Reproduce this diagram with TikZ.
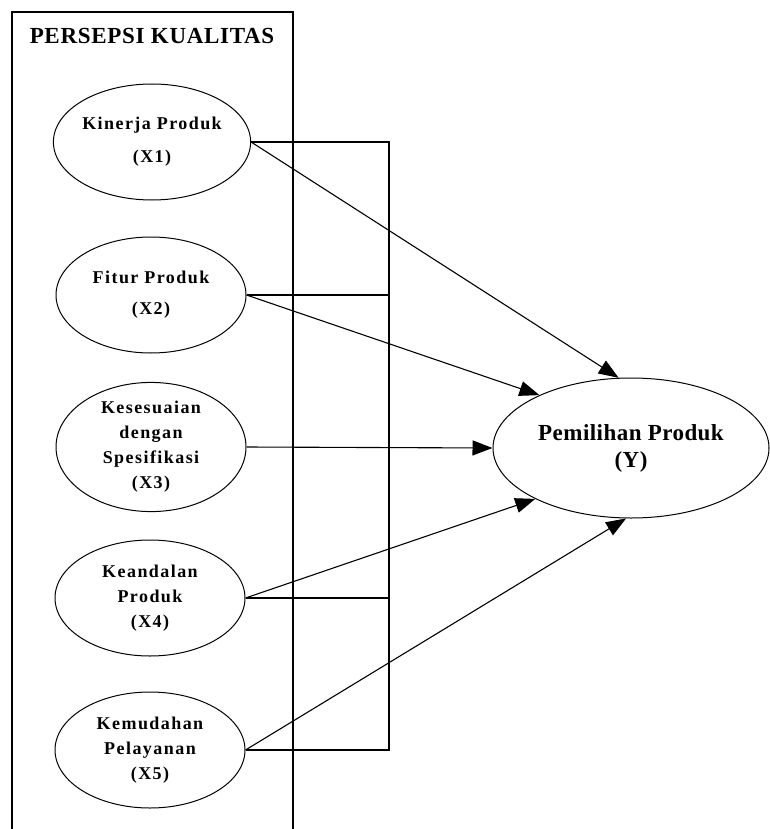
\documentclass[tikz,border=0pt]{standalone}
\usepackage{fontspec}
\setmainfont{Liberation Serif}
\usetikzlibrary{shapes,arrows.meta}

\begin{document}
\begin{tikzpicture}[x=1pt,y=-1pt,
  var/.style={draw, ellipse, line width=1pt, minimum width=190pt, minimum height=116pt,
    inner sep=0pt, align=center, font=\fontsize{18}{25}\selectfont\bfseries\addfontfeature{LetterSpace=8}},
  path/.style={line width=1.1pt, -{Triangle[length=20pt,width=15pt]}},
  bracket/.style={line width=2.6pt}]
\useasboundingbox (0,0) rectangle (769,829);
\draw[line width=1.1pt] (12,829) -- (12,12) -- (293,12) -- (293,829);
\node[font=\fontsize{23}{26}\selectfont\bfseries\addfontfeature{LetterSpace=3}] (title) at (152,36) {PERSEPSI KUALITAS};
\node[var] (x1) at (152,142) {Kinerja Produk\\[8pt](X1)};
\node[var] (x2) at (151,295) {Fitur Produk\\[6pt](X2)};
\node[var] (x3) at (151,447) {Kesesuaian\\dengan\\Spesifikasi\\(X3)};
\node[var] (x4) at (150,598) {Keandalan\\Produk\\(X4)};
\node[var] (x5) at (150,750) {Kemudahan\\Pelayanan\\(X5)};
\node[draw, ellipse, line width=1pt, minimum width=276pt, minimum height=140pt, inner sep=0pt,
  align=center, font=\fontsize{23}{27}\selectfont\bfseries\addfontfeature{LetterSpace=2}] (y) at (631,448) {Pemilihan Produk\\(Y)};
\coordinate (bt) at (389,142);
\coordinate (bb) at (389,750);
\draw[bracket] (x1.east) -- (bt) -- (bb) -- (x5.east);
\draw[bracket] (x2.east) -- (x2.east -| bt);
\draw[bracket] (x4.east) -- (x4.east -| bt);
\draw[path] (x1.east) -- (y.100);
\draw[path] (x2.east) -- (y.150);
\draw[path] (x3.east) -- (y.west);
\draw[path] (x4.east) -- (y.208);
\draw[path] (x5.east) -- (y.266);
\end{tikzpicture}
\end{document}
